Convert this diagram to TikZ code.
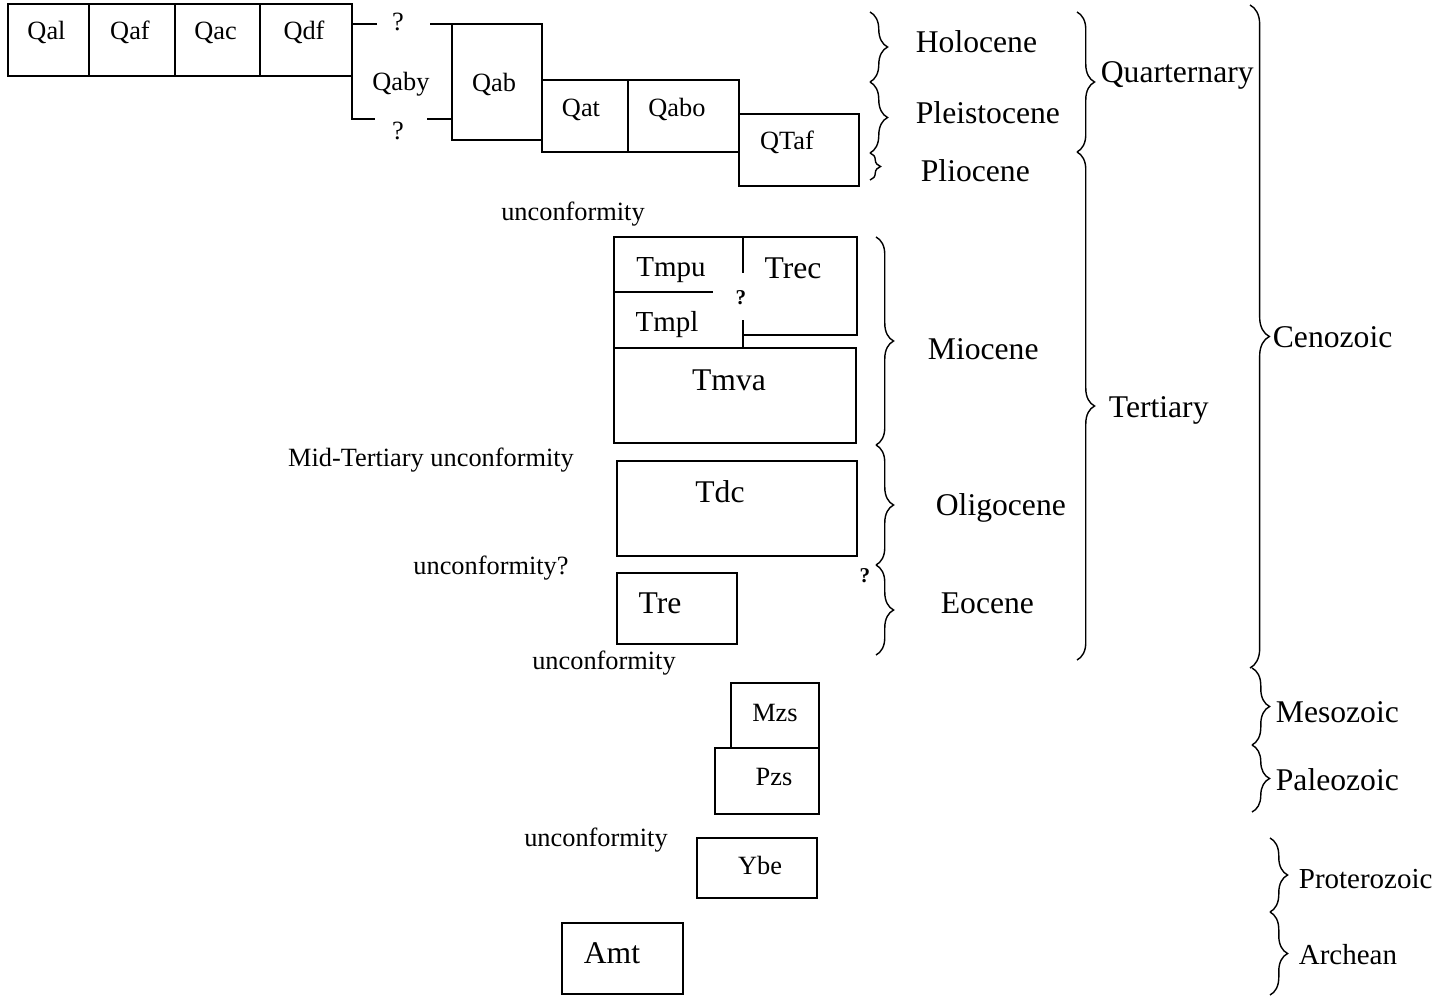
\documentclass[tikz,border=0pt]{standalone}
\usepackage{fontspec}
\setmainfont{Liberation Serif}
\usepackage{tikz}
\usetikzlibrary{decorations.pathreplacing}

\newcommand{\unitbox}[4] % {x1}{y1}{x2}{y2} en pixels
{
	\draw (#1,#2) rectangle (#3,#4);
}
\newcommand{\agebrace}[4][10pt] % [amplitude]{x}{haut}{bas}
{
	\draw [line width=0.8pt, decorate, decoration={brace, amplitude=#1}] (#2,#3) -- (#2,#4);
}

\tikzset{
	unitlabel/.style={inner sep=0pt, text height=9.9pt, text depth=0pt, font=\fontsize{15}{17}\selectfont},
	midlabel/.style={inner sep=0pt, text height=10.9pt, text depth=0pt, font=\fontsize{16.5}{19}\selectfont},
	biglabel/.style={inner sep=0pt, text height=11.9pt, text depth=0pt, font=\fontsize{18}{20}\selectfont},
	querylabel/.style={inner sep=0pt, text height=8pt, text depth=0pt, font=\bfseries\fontsize{12}{14}\selectfont},
}

\begin{document}
\begin{tikzpicture}[x=0.02cm, y=-0.02cm, line width=1pt]
	\useasboundingbox (0,0) rectangle (1454,997);

	% Quaternaire
	\foreach \xa/\xb/\lbl in {8/89/Qal, 89/175/Qaf, 175/260/Qac, 260/352/Qdf} {
		\unitbox{\xa}{4}{\xb}{76}
		\node[unitlabel] (\lbl) at ({(\xa+\xb)/2-2}, 31) {\lbl};
	}
	\draw (377,24) -- (352,24) -- (352,119) -- (375,119);
	\draw (430,24) -- (452,24);
	\draw (427,119) -- (452,119);
	\node[unitlabel] (qabytop) at (398,22) {?};
	\node[unitlabel] (qabybot) at (398,131) {?};
	\node[unitlabel] (Qaby) at (401,82) {Qaby};
	\unitbox{452}{24}{542}{140}
	\node[unitlabel] (Qab) at (494,83) {Qab};
	\unitbox{542}{80}{628}{152}
	\node[unitlabel] (Qat) at (581,108) {Qat};
	\unitbox{628}{80}{739}{152}
	\node[unitlabel] (Qabo) at (677,108) {Qabo};
	\unitbox{739}{114}{859}{186}
	\node[unitlabel] (QTaf) at (787,141) {QTaf};

	% Tertiaire
	\node[unitlabel] (unc1) at (573,212) {unconformity};
	\draw (614,348) -- (614,237) -- (857,237) -- (857,335) -- (743,335);
	\draw (743,237) -- (743,273);
	\draw (743,320) -- (743,348);
	\draw (614,292) -- (713,292);
	\unitbox{614}{348}{856}{443}
	\node[midlabel] (Tmpu) at (671,267) {Tmpu};
	\node[biglabel] (Trec) at (793,268) {Trec};
	\node[querylabel] (tmpq) at (741,297) {?};
	\node[midlabel] (Tmpl) at (667,322) {Tmpl};
	\node[biglabel] (Tmva) at (729,380) {Tmva};

	\node[unitlabel] (unc2) at (431,458) {Mid-Tertiary unconformity};
	\unitbox{617}{461}{857}{556}
	\node[biglabel] (Tdc) at (720,492) {Tdc};
	\node[unitlabel] (unc3) at (491,566) {unconformity?};
	\unitbox{617}{573}{737}{644}
	\node[biglabel] (Tre) at (660,603) {Tre};
	\node[querylabel] (eoq) at (865,575) {?};
	\node[unitlabel] (unc4) at (604,661) {unconformity};

	% Pre-Tertiaire
	\unitbox{731}{683}{819}{748}
	\node[unitlabel] (Mzs) at (775,713) {Mzs};
	\unitbox{715}{748}{819}{814}
	\node[unitlabel] (Pzs) at (774,777) {Pzs};
	\node[unitlabel] (unc5) at (596,838) {unconformity};
	\unitbox{697}{838}{817}{898}
	\node[unitlabel] (Ybe) at (760,866) {Ybe};
	\unitbox{562}{923}{683}{994}
	\node[biglabel] (Amt) at (612,953) {Amt};

	% epoques
	\agebrace{870}{12}{82}
	\agebrace{870}{82}{153}
	\agebrace[6pt]{870}{153}{180}
	\agebrace{876}{237}{445}
	\agebrace{876}{445}{565}
	\agebrace{876}{565}{655}
	\node[biglabel, anchor=west] (holocene) at (915,42) {Holocene};
	\node[biglabel, anchor=west] (pleistocene) at (915,113) {Pleistocene};
	\node[biglabel, anchor=west] (pliocene) at (920,171) {Pliocene};
	\node[biglabel, anchor=west] (miocene) at (927,349) {Miocene};
	\node[biglabel, anchor=west] (oligocene) at (935,505) {Oligocene};
	\node[biglabel, anchor=west] (eocene) at (940,603) {Eocene};

	% periodes et eres
	\agebrace{1077}{12}{152}
	\agebrace{1077}{152}{660}
	\node[biglabel, anchor=west] (quarternary) at (1100,72) {Quarternary};
	\node[biglabel, anchor=west] (tertiary) at (1108,407) {Tertiary};
	\agebrace[11pt]{1250}{5}{668}
	\agebrace{1252}{668}{745}
	\agebrace{1252}{745}{812}
	\agebrace{1270}{838}{912}
	\agebrace{1270}{912}{995}
	\node[biglabel, anchor=west] (cenozoic) at (1272,337) {Cenozoic};
	\node[biglabel, anchor=west] (mesozoic) at (1275,712) {Mesozoic};
	\node[biglabel, anchor=west] (paleozoic) at (1275,780) {Paleozoic};
	\node[midlabel, anchor=west] (proterozoic) at (1298,879) {Proterozoic};
	\node[midlabel, anchor=west] (archean) at (1298,955) {Archean};
\end{tikzpicture}
\end{document}
